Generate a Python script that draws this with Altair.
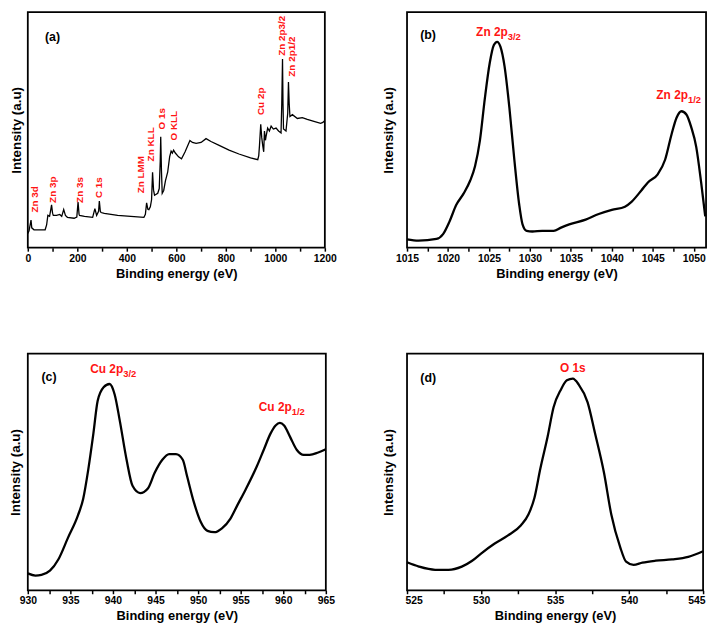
import altair as alt
import pandas as pd

# ---------------- data ----------------
# (a) survey spectrum
survey_energy = [0, 5, 10, 13, 16, 25, 50, 70, 76, 81, 88, 93, 96, 100, 103, 116, 129, 137, 145, 152,
                 160, 187, 198, 203, 207, 209, 229, 262, 271, 278, 286, 289, 293, 296, 309, 363, 416,
                 469, 475, 480, 485, 489, 495, 500, 504, 508, 512, 525, 531, 535, 537, 540, 543, 549,
                 556, 565, 573, 579, 584, 589, 596, 609, 621, 635, 655, 665, 680, 700, 720, 740, 773,
                 813, 853, 900, 929, 933, 936, 941, 945, 949, 953, 956, 960, 963, 969, 976, 983, 992,
                 1003, 1013, 1023, 1026, 1029, 1031, 1033, 1043, 1050, 1053, 1056, 1059, 1069, 1089,
                 1109, 1129, 1156, 1183, 1192, 1200]
survey_intensity = [14.7, 17.7, 24.7, 28.7, 20.7, 18.7, 18.5, 18.7, 23.7, 33.7, 32.7, 40, 44.7, 36, 33.7,
                    33.7, 34.7, 32.7, 39.7, 33.7, 31.7, 30.7, 32, 47.7, 35, 33.7, 32.7, 31.7, 40.7, 33.7,
                    38, 48.7, 38, 36.7, 35.7, 33.7, 32.7, 31.7, 34.7, 46.7, 40, 39.7, 42.7, 50, 78.7, 60,
                    54.7, 56.7, 61.7, 90, 115.7, 80, 56.7, 59.7, 69.7, 78.7, 94.7, 100.7, 98.7, 101.7,
                    98.7, 94.7, 92.7, 99.7, 111.7, 109.7, 108.7, 109.7, 113.7, 110.7, 106.7, 101.7, 97.7,
                    93.7, 91.7, 96, 106.7, 128.7, 115, 106.7, 100, 121.7, 112, 116.7, 124.7, 121.7, 126.7,
                    123.7, 124.7, 121.7, 119.7, 150, 196.7, 150, 123.7, 121.7, 140, 172.7, 150, 136.7,
                    138.7, 134.7, 135.7, 133.7, 131.7, 129.7, 130.7, 132.7]
survey_labels = ["Zn 3d", "Zn 3p", "Zn 3s", "C 1s", "Zn LMM", "Zn KLL", "O 1s", "O KLL", "Cu 2p",
                 "Zn 2p3/2", "Zn 2p1/2"]
survey_label_e = [29, 103, 213, 289, 456, 496, 543, 589, 943, 1027, 1069]
survey_label_i = [36.7, 46.7, 46.7, 51.7, 56.7, 90, 123.3, 111.7, 138.3, 200, 178.3]

# (b) Zn 2p
zn_energy = [1015.0, 1016.4, 1018.6, 1019.4, 1020.2, 1021.0, 1021.9, 1022.7, 1023.3, 1023.9, 1024.5,
             1025.1, 1025.6, 1026.0, 1026.4, 1026.9, 1027.5, 1028.1, 1028.7, 1029.1, 1029.6, 1030.3,
             1031.5, 1032.9, 1033.8, 1034.8, 1036.8, 1038.4, 1040.0, 1041.6, 1042.4, 1043.6, 1044.4,
             1045.6, 1046.5, 1047.3, 1047.9, 1048.5, 1049.1, 1049.7, 1050.3, 1050.9, 1051.4]
zn_intensity = [8.7, 7.3, 9.0, 14.0, 27.3, 44.0, 55.7, 69.0, 84.0, 110.7, 154.0, 190.7, 209.0, 212.3,
                207.3, 187.3, 144.0, 90.7, 44.0, 24.0, 17.3, 16.7, 17.3, 17.3, 20.7, 24.0, 29.0, 34.7,
                39.0, 42.3, 47.3, 59.0, 67.3, 75.7, 90.7, 117.3, 134.0, 140.7, 137.3, 124.0, 104.0,
                67.3, 32.3]

# (c) Cu 2p
cu_energy = [930.0, 930.9, 931.6, 932.6, 933.6, 934.7, 935.9, 936.5, 937.1, 937.7, 938.2, 938.9, 939.6,
             940.2, 940.8, 941.6, 942.3, 943.2, 944.1, 944.9, 945.8, 946.6, 947.4, 948.2, 948.7, 949.5,
             950.3, 951.1, 951.9, 952.8, 953.8, 954.6, 955.6, 956.9, 957.7, 958.5, 959.1, 959.6, 960.1,
             960.8, 961.6, 962.4, 963.1, 964.1, 965.0]
cu_intensity = [17.3, 15.0, 15.7, 20.0, 31.7, 53.3, 76.7, 93.3, 123.3, 160.0, 193.3, 207.3, 210.7, 200.0,
                173.3, 133.3, 106.7, 99.3, 104.0, 120.0, 133.3, 139.0, 139.0, 133.3, 116.7, 90.0, 70.0,
                60.7, 59.3, 63.3, 73.3, 86.7, 103.3, 126.7, 143.3, 160.0, 168.3, 171.0, 168.3, 156.7,
                143.3, 138.3, 138.3, 140.7, 144.0]

# (d) O 1s
o_energy = [525.0, 525.8, 526.9, 527.8, 528.7, 529.4, 530.0, 530.9, 531.8, 532.7, 533.2, 533.6, 534.0,
            534.5, 534.9, 535.4, 535.8, 536.2, 536.6, 537.2, 537.7, 538.3, 538.8, 539.4, 539.8, 540.3,
            540.9, 541.8, 542.9, 544.0, 545.0]
o_intensity = [28.7, 24.3, 21.0, 21.0, 24.3, 30.3, 37.7, 47.7, 56.0, 66.7, 77.7, 94.3, 124.3, 157.7,
               187.7, 206.0, 215.3, 217.0, 211.0, 192.7, 161.0, 121.0, 77.7, 44.3, 29.3, 26.0, 28.3,
               30.3, 31.7, 34.3, 40.0]

# axis ranges and tick values
xdom_a, ydom_a = [0, 1200], [0, 245.7]
xdom_b, ydom_b = [1015, 1051.5], [0, 243]
xdom_c, ydom_c = [930, 965], [0, 241.7]
xdom_d, ydom_d = [525, 545], [0, 242.7]
ticks_a = [0, 100, 200, 300, 400, 500, 600, 700, 800, 900, 1000, 1100, 1200]
ticks_b = [1015 + 2.5 * k for k in range(15)]
ticks_c = [930 + 2.5 * k for k in range(15)]
ticks_d = [525 + 2.5 * k for k in range(9)]

FONT = "Liberation Sans"
RED = "#ff1414"
XTITLE = "Binding energy (eV)"
YTITLE = "Intensity (a.u)"


def x_enc(domain, values, major, flush=False):
    return alt.X(
        "E:Q",
        scale=alt.Scale(domain=domain, nice=False, zero=False),
        axis=alt.Axis(
            values=values,
            format="d",
            title=XTITLE,
            domain=False,
            grid=False,
            ticks=True,
            tickColor="#000000",
            tickWidth=1.5,
            tickSize=3.5,
            labelExpr=f"datum.value % {major} === 0 ? datum.label : ''",
            labelFlush=flush,
            labelFlushOffset=2,
            labelOverlap=False,
            labelFont=FONT,
            labelFontSize=10.5,
            labelFontWeight="bold",
            labelColor="black",
            labelPadding=2,
            titleFont=FONT,
            titleFontSize=13,
            titleFontWeight="bold",
            titleColor="black",
            titlePadding=4,
        ),
    )


def y_enc(domain, tpad):
    return alt.Y(
        "I:Q",
        scale=alt.Scale(domain=domain, nice=False, zero=False),
        axis=alt.Axis(
            title=YTITLE,
            labels=False,
            ticks=False,
            domain=False,
            grid=False,
            titleFont=FONT,
            titleFontSize=13.5,
            titleFontWeight="bold",
            titleColor="black",
            titlePadding=tpad,
        ),
    )


def line_layer(df, xe, ye, sw, interp):
    return alt.Chart(df).mark_line(color="black", strokeWidth=sw, interpolate=interp).encode(x=xe, y=ye)


def letter_layer(letter, e, i, xe, ye):
    df = pd.DataFrame({"E": [e], "I": [i], "t": [letter]})
    return alt.Chart(df).mark_text(align="left", baseline="alphabetic", font=FONT, fontSize=12.5,
                                   fontWeight="bold", color="black").encode(x=xe, y=ye, text="t:N")


def sub_label(main, sub, e, i, xe, ye):
    df = pd.DataFrame({"E": [e], "I": [i], "m": [main], "s": [sub]})
    m = alt.Chart(df).mark_text(align="right", baseline="alphabetic", font=FONT, fontSize=12,
                                fontWeight="bold", color=RED).encode(x=xe, y=ye, text="m:N")
    s = alt.Chart(df).mark_text(align="left", baseline="alphabetic", dy=4, font=FONT, fontSize=9.5,
                                fontWeight="bold", color=RED).encode(x=xe, y=ye, text="s:N")
    return m + s


# (a)
xa = x_enc(xdom_a, ticks_a, 200)
ya = y_enc(ydom_a, 4)
df_a = pd.DataFrame({"E": survey_energy, "I": survey_intensity})
df_a_lab = pd.DataFrame({"E": survey_label_e, "I": survey_label_i, "t": survey_labels})
pa = alt.layer(
    line_layer(df_a, xa, ya, 1.3, "linear"),
    alt.Chart(df_a_lab).mark_text(angle=270, align="left", baseline="middle", font=FONT, fontSize=10,
                                  fontWeight="bold", color=RED).encode(x=xa, y=ya, text="t:N"),
    letter_layer("(a)", 69.3, 215.7, xa, ya),
).properties(width=300, height=238)

# (b)
xb = x_enc(xdom_b, ticks_b, 5)
yb = y_enc(ydom_b, 12)
df_b = pd.DataFrame({"E": zn_energy, "I": zn_intensity})
pb = alt.layer(
    line_layer(df_b, xb, yb, 2.3, "monotone"),
    sub_label("Zn 2p", "3/2", 1027.3, 218, xb, yb),
    sub_label("Zn 2p", "1/2", 1049.3, 153.3, xb, yb),
    letter_layer("(b)", 1016.6, 215.7, xb, yb),
).properties(width=302, height=238)

# (c)
xc = x_enc(xdom_c, ticks_c, 5)
yc = y_enc(ydom_c, 5)
df_c = pd.DataFrame({"E": cu_energy, "I": cu_intensity})
pc = alt.layer(
    line_layer(df_c, xc, yc, 2.3, "monotone"),
    sub_label("Cu 2p", "3/2", 941.2, 221.7, xc, yc),
    sub_label("Cu 2p", "1/2", 961.0, 183.3, xc, yc),
    letter_layer("(c)", 931.6, 213.3, xc, yc),
).properties(width=301, height=239)

# (d)
xd = x_enc(xdom_d, ticks_d, 5, flush=True)
yd = y_enc(ydom_d, 12)
df_d = pd.DataFrame({"E": o_energy, "I": o_intensity})
df_d_lab = pd.DataFrame({"E": [536.2], "I": [223.7], "t": ["O 1s"]})
pd_ = alt.layer(
    line_layer(df_d, xd, yd, 2.3, "monotone"),
    alt.Chart(df_d_lab).mark_text(align="center", baseline="alphabetic", font=FONT, fontSize=12,
                                  fontWeight="bold", color=RED).encode(x=xd, y=yd, text="t:N"),
    letter_layer("(d)", 525.9, 213.3, xd, yd),
).properties(width=299, height=239)

chart = alt.concat(pa, pb, pc, pd_, columns=2, spacing={"row": 107, "column": 82}, bounds="flush").properties(
    padding=0, background="white"
).configure_view(stroke="#000000", strokeWidth=1.8)

chart.save("out.html", embed_options={"renderer": "svg", "actions": False})
